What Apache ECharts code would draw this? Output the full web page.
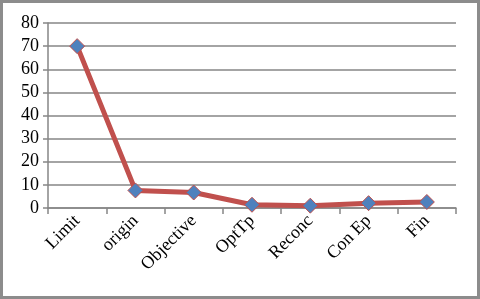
<!DOCTYPE html>
<html><head><meta charset="utf-8">
<script src="https://cdn.jsdelivr.net/npm/echarts@6/dist/echarts.min.js"></script>
<style>html,body{margin:0;padding:0;background:#fff}#c{width:480px;height:299px;box-sizing:border-box;border:3px solid #8c8c8c}</style>
</head><body><div id="c"></div>
<script>
var categories = ['Limit','origin','Objective','OptTp','Reconc','Con Ep','Fin'];
var values = [70, 7.6, 6.7, 1.4, 1.0, 2.1, 2.6];
var yTicks = {min:0, max:80, interval:10};
var chart = echarts.init(document.getElementById('c'));
chart.setOption({
  animation:false,
  grid:{left:45,right:21,top:20,bottom:88},
  xAxis:{type:'category',data:categories,boundaryGap:true,
    axisLine:{lineStyle:{color:'#868686',width:1.5}},
    axisTick:{show:true,length:6,lineStyle:{color:'#868686',width:1.5}},
    axisLabel:{rotate:45,color:'#000',fontFamily:'Liberation Serif',fontSize:18,margin:10}},
  yAxis:{type:'value',min:yTicks.min,max:yTicks.max,interval:yTicks.interval,
    axisLine:{show:true,lineStyle:{color:'#868686',width:1.5}},
    axisTick:{show:true,length:5,lineStyle:{color:'#868686',width:1.5}},
    splitLine:{lineStyle:{color:'#868686',width:1.5}},
    axisLabel:{color:'#000',fontFamily:'Liberation Serif',fontSize:18,margin:9}},
  series:[{type:'line',data:values,symbol:'diamond',symbolSize:15,
    lineStyle:{color:'#C0504D',width:5},
    itemStyle:{color:'#4F81BD',borderColor:'#C0504D',borderWidth:1}}]
});
</script></body></html>
